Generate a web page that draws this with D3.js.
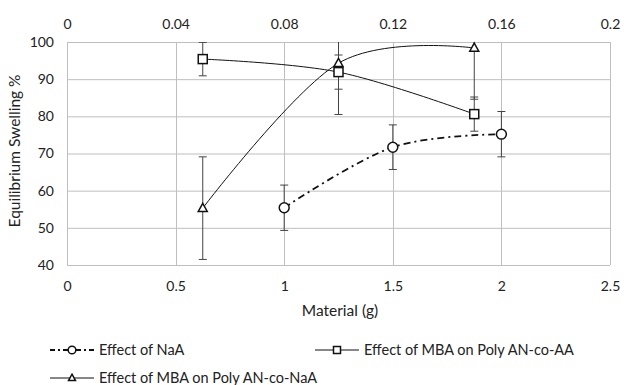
<!DOCTYPE html>
<html>
<head>
<meta charset="utf-8">
<script src="https://cdn.jsdelivr.net/npm/d3@7"></script>
<style>
  body { margin: 0; background: #fff; }
  text { font-family: Lato, "Open Sans", sans-serif; fill: #222; }
</style>
</head>
<body>
<div id="chart"></div>
<script>
// series data (NaA on bottom axis, MBA series on top axis)
var naaX = [1, 1.5, 2]
var naaY = [55.4, 71.7, 75.2]
var naaErr = [6.1, 6.0, 6.1]

var mbaX = [0.05, 0.1, 0.15]
var aaY = [95.4, 91.9, 80.6]
var aaErr = [4.5, 4.6, 4.6]
var naY = [55.3, 94.3, 98.4]
var naErr = [13.8, 13.8, 13.8]

var bottomTicks = [0, 0.5, 1, 1.5, 2, 2.5]
var topTicks = [0, 0.04, 0.08, 0.12, 0.16, 0.2]
var yTicks = [40, 50, 60, 70, 80, 90, 100]

var legendNames = ["Effect of NaA", "Effect of MBA on Poly AN-co-AA", "Effect of MBA on Poly AN-co-NaA"]

var margin = {top: 42, right: 14, bottom: 120, left: 67},
    width = 610 - margin.left,
    height = 265 - margin.top

var svg = d3.select("#chart").append("svg")
    .attr("width", 624)
    .attr("height", 385)

var g = svg.append("g")
    .attr("transform", "translate(" + margin.left + "," + margin.top + ")")

var xBottom = d3.scaleLinear().domain([0, 2.5]).range([0, width])
var xTop = d3.scaleLinear().domain([0, 0.2]).range([0, width])
var yScale = d3.scaleLinear().domain([40, 100]).range([height, 0])

// grid
g.selectAll(".hgrid")
    .data(yTicks)
    .enter().append("line")
    .attr("x1", 0).attr("x2", width)
    .attr("y1", function(d){ return yScale(d) + 0.5 })
    .attr("y2", function(d){ return yScale(d) + 0.5 })
    .attr("stroke", "#bfbfbf")

g.selectAll(".vgrid")
    .data(bottomTicks)
    .enter().append("line")
    .attr("x1", function(d){ return Math.round(xBottom(d)) + 0.5 })
    .attr("x2", function(d){ return Math.round(xBottom(d)) + 0.5 })
    .attr("y1", 0).attr("y2", height)
    .attr("stroke", "#bfbfbf")

// axes labels
var yAxis = g.append("g")
    .call(d3.axisLeft(yScale).tickValues(yTicks).tickSize(0).tickPadding(13))
yAxis.select(".domain").remove()
yAxis.selectAll("text").style("font-size", "14px")

var xAxisB = g.append("g")
    .attr("transform", "translate(0," + height + ")")
    .call(d3.axisBottom(xBottom).tickValues(bottomTicks).tickSize(0).tickPadding(16)
        .tickFormat(d3.format("")))
xAxisB.select(".domain").remove()
xAxisB.selectAll("text").style("font-size", "14px")

var xAxisT = g.append("g")
    .call(d3.axisTop(xTop).tickValues(topTicks).tickSize(0).tickPadding(13)
        .tickFormat(d3.format("")))
xAxisT.select(".domain").remove()
xAxisT.selectAll("text").style("font-size", "14px")

svg.append("text")
    .attr("x", 340).attr("y", 316)
    .attr("text-anchor", "middle")
    .style("font-size", "15.5px")
    .text("Material (g)")

svg.append("text")
    .attr("transform", "translate(20,151) rotate(-90)")
    .attr("text-anchor", "middle")
    .style("font-size", "15.5px")
    .text("Equilibrium Swelling %")

// clip for error bars
g.append("clipPath").attr("id", "plotclip")
    .append("rect").attr("x", -10).attr("y", 0).attr("width", width + 20).attr("height", height)

var series = [
    {x: naaX, y: naaY, err: naaErr, xs: xBottom, marker: "circle", dash: "7,4,2,4", sw: 1.8},
    {x: mbaX, y: aaY, err: aaErr, xs: xTop, marker: "square", dash: null, sw: 1},
    {x: mbaX, y: naY, err: naErr, xs: xTop, marker: "triangle", dash: null, sw: 1}
]

var line = d3.line().curve(d3.curveCardinal.tension(0))

// error bars
series.forEach(function(s){
    var eb = g.append("g").attr("clip-path", "url(#plotclip)")
    s.x.forEach(function(xv, i){
        var px = s.xs(xv), hi = yScale(s.y[i] + s.err[i]), lo = yScale(s.y[i] - s.err[i])
        eb.append("line").attr("x1", px).attr("x2", px).attr("y1", hi).attr("y2", lo)
            .attr("stroke", "#444").attr("stroke-width", 1)
        ;[hi, lo].forEach(function(yy){
            eb.append("line").attr("x1", px - 4).attr("x2", px + 4).attr("y1", yy).attr("y2", yy)
                .attr("stroke", "#444").attr("stroke-width", 1)
        })
    })
})

function drawMarker(sel, type, cx, cy, size){
    if (type == "circle"){
        sel.append("circle").attr("cx", cx).attr("cy", cy).attr("r", size * 0.55)
            .attr("fill", "#fff").attr("stroke", "#111").attr("stroke-width", 1.5)
    } else if (type == "square"){
        sel.append("rect").attr("x", cx - size / 2).attr("y", cy - size / 2)
            .attr("width", size).attr("height", size)
            .attr("fill", "#fff").attr("stroke", "#111").attr("stroke-width", 1.5)
    } else {
        var h = size * 0.9
        sel.append("path")
            .attr("d", "M" + cx + "," + (cy - h * 0.6) + "L" + (cx + size / 2) + "," + (cy + h * 0.4) +
                "L" + (cx - size / 2) + "," + (cy + h * 0.4) + "Z")
            .attr("fill", "#fff").attr("stroke", "#111").attr("stroke-width", 1.5)
    }
}

// lines and markers
series.forEach(function(s){
    var pts = s.x.map(function(xv, i){ return [s.xs(xv), yScale(s.y[i])] })
    g.append("path").attr("d", line(pts))
        .attr("fill", "none").attr("stroke", "#111")
        .attr("stroke-width", s.sw)
        .attr("stroke-dasharray", s.dash)
    pts.forEach(function(p){ drawMarker(g, s.marker, p[0], p[1], 9) })
})

// legend
var legendPos = [[50, 350], [315, 350], [50, 378]]
series.forEach(function(s, i){
    var lx = legendPos[i][0], ly = legendPos[i][1]
    svg.append("line").attr("x1", lx).attr("x2", lx + 44).attr("y1", ly).attr("y2", ly)
        .attr("stroke", "#111").attr("stroke-width", s.sw)
        .attr("stroke-dasharray", s.dash ? "5,3,2,3" : null)
    drawMarker(svg, s.marker, lx + 22, ly, 7)
    svg.append("text").attr("x", lx + 49).attr("y", ly + 5)
        .style("font-size", "14.5px")
        .text(legendNames[i])
})
</script>
</body>
</html>
